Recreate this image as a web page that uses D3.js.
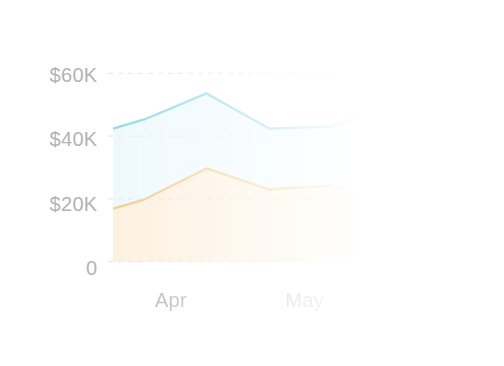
<!DOCTYPE html>
<html><head><meta charset="utf-8">
<script src="https://cdn.jsdelivr.net/npm/d3@7"></script>
<style>html,body{margin:0;padding:0;background:#fff;}svg{display:block;}</style>
</head><body>
<svg id="chart" width="504" height="366"></svg>
<script>
const dates = ["2024-04-02","2024-04-09","2024-04-23","2024-05-07","2024-05-21","2024-05-28"];
const blueValues = [42400, 45300, 53600, 42400, 43000, 46500];
const orangeValues = [16900, 19800, 29700, 23000, 24200, 21500];
const yTicks = [0, 20000, 40000, 60000];
const yTickLabels = ["0", "$20K", "$40K", "$60K"];
const xTickDates = ["2024-04-15", "2024-05-15"];
const xTickLabels = ["Apr", "May"];

const parse = d3.timeParse("%Y-%m-%d");
const data = dates.map((d, i) => ({date: parse(d), blue: blueValues[i], orange: orangeValues[i]}));

const svg = d3.select("#chart");
const x = d3.scaleTime().domain([parse("2024-04-01"), parse("2024-06-01")]).range([108.7, 380.2]);
const y = d3.scaleLinear().domain([0, 60000]).range([261.7, 73.3]);
const yLab = d3.scaleLinear().domain([0, 60000]).range([268, 74.5]);

const defs = svg.append("defs");
const g = defs.append("linearGradient").attr("id", "fade").attr("gradientUnits", "userSpaceOnUse")
  .attr("x1", 100).attr("x2", 362).attr("y1", 0).attr("y2", 0);
g.append("stop").attr("offset", 0).attr("stop-color", "#fff").attr("stop-opacity", 1);
g.append("stop").attr("offset", 1).attr("stop-color", "#fff").attr("stop-opacity", 0);
const mask = defs.append("mask").attr("id", "fadeMask").attr("maskUnits", "userSpaceOnUse")
  .attr("x", 0).attr("y", 0).attr("width", 504).attr("height", 366);
mask.append("rect").attr("x", 0).attr("y", 0).attr("width", 504).attr("height", 366).attr("fill", "url(#fade)");

const font = "Liberation Sans, Arial, sans-serif";

// y labels (not faded)
svg.append("g").selectAll("text").data(yTicks).join("text")
  .attr("x", 97.5).attr("y", d => yLab(d)).attr("dy", "0.35em")
  .attr("text-anchor", "end")
  .attr("font-family", font).attr("font-size", 20).attr("letter-spacing", 0.3)
  .attr("fill", "#b3b3b3")
  .text((d, i) => yTickLabels[i]);

const plot = svg.append("g").attr("mask", "url(#fadeMask)");

const areaBlue = d3.area().x(d => x(d.date)).y0(y(0)).y1(d => y(d.blue));
const areaOrange = d3.area().x(d => x(d.date)).y0(y(0)).y1(d => y(d.orange));
plot.append("path").datum(data).attr("d", areaBlue).attr("fill", "#eef9fd");
plot.append("path").datum(data).attr("d", areaOrange).attr("fill", "#fdf0de");

// gridlines
plot.append("g").selectAll("line").data(yTicks).join("line")
  .attr("x1", 108).attr("x2", 400)
  .attr("y1", d => y(d)).attr("y2", d => y(d))
  .attr("stroke", "#e4e4e4").attr("stroke-width", 1).attr("stroke-dasharray", "5,5");

const lineBlue = d3.line().x(d => x(d.date)).y(d => y(d.blue));
const lineOrange = d3.line().x(d => x(d.date)).y(d => y(d.orange));
plot.append("path").datum(data).attr("d", lineBlue).attr("fill", "none")
  .attr("stroke", "#8fd6ea").attr("stroke-width", 2.3).attr("stroke-linejoin", "round");
plot.append("path").datum(data).attr("d", lineOrange).attr("fill", "none")
  .attr("stroke", "#f1cb90").attr("stroke-width", 2.3).attr("stroke-linejoin", "round");

// x labels
plot.append("g").selectAll("text").data(xTickDates).join("text")
  .attr("x", d => x(parse(d))).attr("y", 307)
  .attr("text-anchor", "middle")
  .attr("font-family", font).attr("font-size", 20).attr("letter-spacing", 0.3)
  .attr("fill", "#b3b3b3")
  .text((d, i) => xTickLabels[i]);
</script>
</body></html>
